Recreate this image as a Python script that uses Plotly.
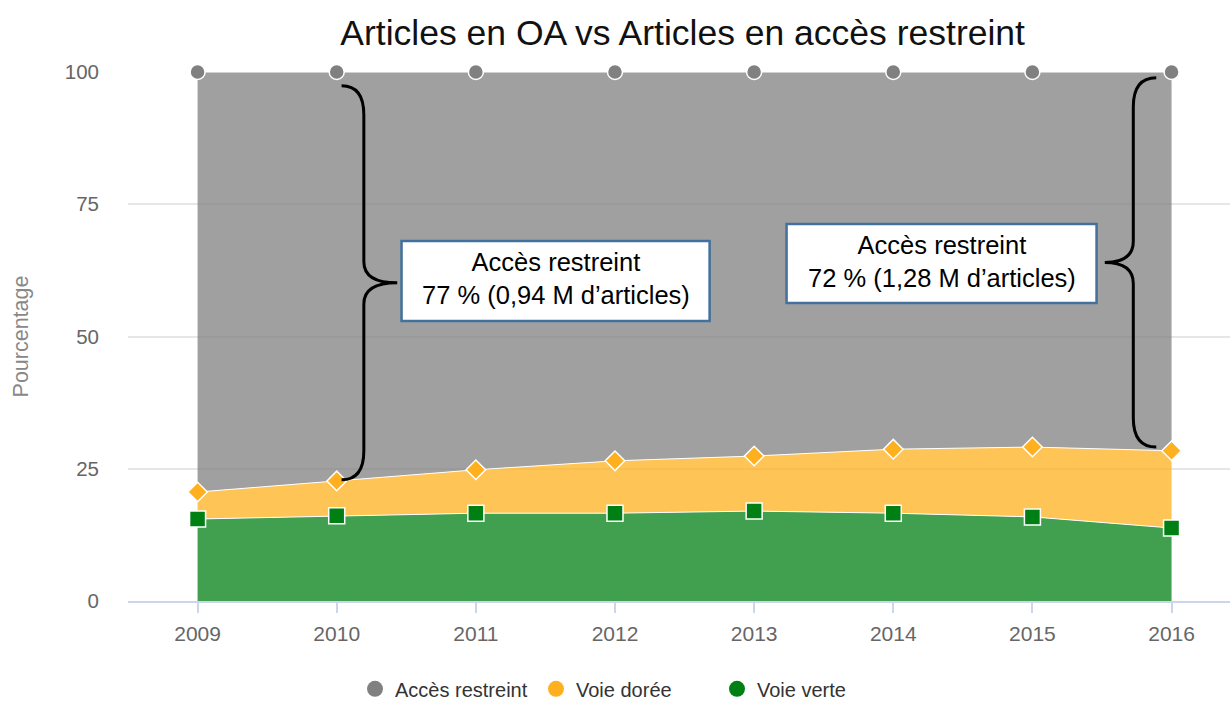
import plotly.graph_objects as go

years = [2009, 2010, 2011, 2012, 2013, 2014, 2015, 2016]
voie_verte = [15.5, 16.1, 16.6, 16.6, 17.0, 16.6, 15.9, 13.8]
voie_doree = [5.1, 6.6, 8.2, 9.9, 10.4, 12.1, 13.2, 14.6]
acces_restreint = [79.4, 77.3, 75.2, 73.5, 72.6, 71.3, 70.9, 71.6]

series_names = ["Accès restreint", "Voie dorée", "Voie verte"]
note_left = "Accès restreint<br>77 % (0,94 M d’articles)"
note_right = "Accès restreint<br>72 % (1,28 M d’articles)"

GRAY = "#808080"
GOLD = "#ffb01e"
GREEN = "#008014"
FONT = "Liberation Sans, Arial, sans-serif"

fig = go.Figure()

def add_area(y, name, color, symbol, size):
    r, g, b = int(color[1:3], 16), int(color[3:5], 16), int(color[5:7], 16)
    fig.add_trace(go.Scatter(
        x=years, y=y, name=name, stackgroup="one", mode="lines+markers",
        line=dict(color="white", width=1),
        fillcolor=f"rgba({r},{g},{b},0.75)",
        marker=dict(color=color, symbol=symbol, size=size, line=dict(color="white", width=1.5)),
        cliponaxis=False, showlegend=False, hoverinfo="skip"))

add_area(voie_verte, series_names[2], GREEN, "square", 16)
add_area(voie_doree, series_names[1], GOLD, "diamond", 15)
add_area(acces_restreint, series_names[0], GRAY, "circle", 15)

for name, color in zip(series_names, [GRAY, GOLD, GREEN]):
    fig.add_trace(go.Scatter(x=[None], y=[None], mode="markers", name=name,
                             marker=dict(color=color, size=20, symbol="circle"),
                             showlegend=True))

# braces derived from data
cum_doree = [a + b for a, b in zip(voie_verte, voie_doree)]

def brace(x0, top, bottom, dx, tip):
    mid = (top + bottom) / 2
    xa = x0 + dx
    xt = x0 + tip
    r = 5.5
    return (f"M {x0},{top} Q {xa},{top} {xa},{top - r} L {xa},{mid + 4} "
            f"Q {xa},{mid} {xt},{mid} Q {xa},{mid} {xa},{mid - 4} "
            f"L {xa},{bottom + r} Q {xa},{bottom} {x0},{bottom}")

i10 = years.index(2010)
i16 = years.index(2016)
fig.add_shape(type="path", xref="x", yref="y",
              path=brace(years[i10] + 0.035, 97.4, cum_doree[i10] + 0.2, 0.16, 0.40),
              line=dict(color="black", width=3))
fig.add_shape(type="path", xref="x", yref="y",
              path=brace(years[i16] - 0.11, 98.9, cum_doree[i16] + 0.7, -0.165, -0.37),
              line=dict(color="black", width=3))

# text boxes
for (x0, x1, y0, y1) in [(2010.466, 2012.680, 52.93, 68.05), (2013.233, 2015.461, 56.33, 71.27)]:
    fig.add_shape(type="rect", xref="x", yref="y", x0=x0, x1=x1, y0=y0, y1=y1,
                  fillcolor="white", line=dict(color="#41719c", width=2.5), layer="above")

for txt, xc, yc in [(note_left, 2011.573, 60.9), (note_right, 2014.347, 64.1)]:
    fig.add_annotation(x=xc, y=yc, xref="x", yref="y", text=txt, showarrow=False,
                       font=dict(family=FONT, size=25.5, color="black"),
                       xanchor="center", yanchor="middle", align="center")

fig.update_layout(
    width=1230, height=707,
    margin=dict(l=128, r=0, t=72, b=106, autoexpand=False),
    paper_bgcolor="white", plot_bgcolor="white",
    font=dict(family=FONT, color="#666666"),
    title=dict(text="Articles en OA vs Articles en accès restreint",
               x=0.555, xanchor="center", xref="container",
               y=1 - 33 / 707, yanchor="middle", yref="container",
               font=dict(size=35.5, color="#111111")),
    xaxis=dict(range=[2008.5, 2016.42], tickmode="array", tickvals=years,
               ticktext=[str(y) for y in years], showgrid=False,
               showline=True, linecolor="#ccd6eb", linewidth=1.5,
               ticks="outside", ticklen=10, tickcolor="#ccd6eb", tickwidth=1.5,
               tickfont=dict(size=21, color="#666666"), ticklabelstandoff=3,
               zeroline=False, automargin=False),
    yaxis=dict(range=[0, 100], tickvals=[0, 25, 50, 75, 100],
               showgrid=True, gridcolor="#e6e6e6", gridwidth=1.5, zeroline=False,
               tickfont=dict(size=20.5, color="#666666"), ticklabelstandoff=28,
               automargin=False,
               title=dict(text="Pourcentage", font=dict(size=21.5, color="#888888"), standoff=30)),
    legend=dict(orientation="h", x=0.206, xanchor="left", y=-0.166, yanchor="middle",
                font=dict(size=20, color="#333333"), entrywidth=136, entrywidthmode="pixels",
                itemsizing="trace", traceorder="normal"),
    hovermode=False,
)

fig.write_html("out.html", config={"displayModeBar": False},
               post_script="document.body.style.margin='0';document.body.style.overflow='hidden';")
